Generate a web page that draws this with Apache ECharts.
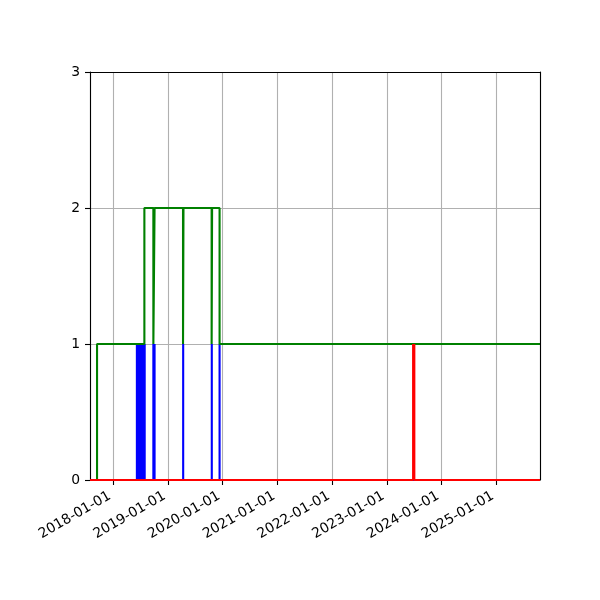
<!DOCTYPE html>
<html>
<head>
<meta charset="utf-8">
<script src="https://cdn.jsdelivr.net/npm/echarts@6/dist/echarts.min.js"></script>
<style>html,body{margin:0;padding:0;background:#fff}#c{width:600px;height:600px}</style>
</head>
<body>
<div id="c"></div>
<script>
// x range of the axes
const xRange = ['2017-07-29', '2025-10-19'];
// green step series: value holds from date until next date
const greenDates  = ['2017-09-14','2017-09-14','2018-07-27','2018-09-25','2018-10-03','2019-04-11','2019-04-14','2019-10-19','2019-10-22','2019-12-11','2025-10-19'];
const greenValues = [0, 1, 2, 1, 2, 1, 2, 1, 2, 1, 1];
// blue spikes (0 -> 1 -> 0)
const blueSpikes = ['2018-06-07','2018-06-13','2018-06-20','2018-06-27','2018-07-03','2018-07-10','2018-07-17','2018-07-23','2018-07-29','2018-09-25','2018-10-03','2019-04-12','2019-10-20','2019-12-11'];
const blueHeight = 1;
// red spikes (0 -> 1 -> 0)
const redSpikes = ['2023-06-25','2023-07-03'];
const redHeight = 1;
const yTicks = [0, 1, 2, 3];

function spikeData(dates, h) {
  const d = [[xRange[0], 0]];
  dates.forEach(t => { d.push([t, 0]); d.push([t, h]); d.push([t, 0]); });
  d.push([xRange[1], 0]);
  return d;
}
const greenData = greenDates.map((t, i) => [t, greenValues[i]]);

const pad = n => (n < 10 ? '0' : '') + n;
const FONT = 'DejaVu Sans';
const spine = {show: true, onZero: false, lineStyle: {color: '#000', width: 1.1}};
const chart = echarts.init(document.getElementById('c'), null, {renderer: 'canvas'});
chart.setOption({
  animation: false,
  backgroundColor: '#fff',
  grid: {left: 90, right: 60, top: 72, bottom: 120, show: false},
  xAxis: [{
    type: 'time',
    min: xRange[0], max: xRange[1],
    minInterval: 365 * 86400000, maxInterval: 366 * 86400000,
    axisLine: {show: false, onZero: false},
    axisTick: {show: true, length: 5, lineStyle: {color: '#000', width: 1.1}},
    minorTick: {show: false},
    splitLine: {show: true, lineStyle: {color: '#b0b0b0', width: 1.1}},
    axisLabel: {
      rotate: 30, margin: 21, align: 'right', verticalAlign: 'bottom',
      color: '#000', fontSize: 13.9, fontFamily: FONT,
      formatter: function (v) { const d = new Date(v); return d.getFullYear() + '-' + pad(d.getMonth() + 1) + '-' + pad(d.getDate()); }
    }
  }, {
    type: 'time', position: 'top', min: xRange[0], max: xRange[1],
    axisLine: spine, axisTick: {show: false}, axisLabel: {show: false}, splitLine: {show: false}, z: 10
  }],
  yAxis: [{
    type: 'value', min: yTicks[0], max: yTicks[yTicks.length - 1], interval: 1,
    axisLine: spine,
    axisTick: {show: true, length: 5, lineStyle: {color: '#000', width: 1.1}},
    splitLine: {show: true, lineStyle: {color: '#b0b0b0', width: 1.1}},
    axisLabel: {margin: 10, color: '#000', fontSize: 13.9, fontFamily: FONT}
  }, {
    type: 'value', position: 'right', min: yTicks[0], max: yTicks[yTicks.length - 1], interval: 1,
    axisLine: spine, axisTick: {show: false}, axisLabel: {show: false}, splitLine: {show: false}, z: 10
  }],
  series: [
    {type: 'line', data: spikeData(blueSpikes, blueHeight), showSymbol: false, symbol: 'none', z: 2, clip: false,
     lineStyle: {color: '#0000ff', width: 2.1}},
    {type: 'line', step: 'end', data: greenData, showSymbol: false, symbol: 'none', z: 3, clip: false,
     lineStyle: {color: '#008000', width: 2.1}},
    {type: 'line', data: spikeData(redSpikes, redHeight), showSymbol: false, symbol: 'none', z: 20, clip: false,
     lineStyle: {color: '#ff0000', width: 2.1}}
  ]
});
</script>
</body>
</html>
